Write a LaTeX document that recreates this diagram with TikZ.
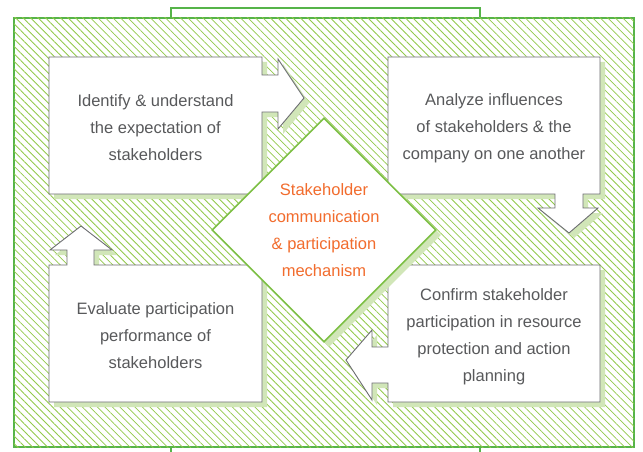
\documentclass[tikz,border=0pt]{standalone}
\usepackage{fontspec}
\setmainfont{Liberation Sans}
\usetikzlibrary{patterns.meta,shapes.geometric}
\definecolor{framegreen}{HTML}{56B449}
\definecolor{hatchgreen}{HTML}{92C94A}
\definecolor{diagreen}{HTML}{7CBF44}
\definecolor{shadowgreen}{HTML}{D1E6B8}
\definecolor{boxgray}{HTML}{6D6E71}
\definecolor{textgray}{HTML}{58595B}
\definecolor{mechorange}{HTML}{F26C2D}
\newcommand\pathIdentify{(49,57) -- (262,57) -- (262,75) -- (278,75) -- (278,59) -- (304,98) -- (278,129) -- (278,112) -- (262,112) -- (262,194) -- (49,194) -- cycle}
\newcommand\pathAnalyze{(388,57) -- (600,57) -- (600,194) -- (583,194) -- (583,208) -- (598,208) -- (569,233) -- (538,208) -- (555,208) -- (555,194) -- (388,194) -- cycle}
\newcommand\pathEvaluate{(49,265) -- (67,265) -- (67,250) -- (50,250) -- (81,226) -- (112,250) -- (94,250) -- (94,265) -- (262,265) -- (262,402) -- (49,402) -- cycle}
\newcommand\pathConfirm{(388,265) -- (600,265) -- (600,402) -- (388,402) -- (388,383) -- (372,383) -- (372,400) -- (346,360) -- (372,330) -- (372,347) -- (388,347) -- cycle}
\begin{document}
\begin{tikzpicture}[x=1pt,y=-1pt,
  frameline/.style={draw=framegreen,line width=2.5pt},
  shadowshape/.style={fill=shadowgreen,shift={(5,5)}},
  stepshape/.style={draw=boxgray,line width=0.9pt,fill=white,line join=miter},
  txt/.style={text=textgray,align=center,font=\fontsize{16.5}{27}\selectfont},
  mech/.style={shape=diamond,minimum width=224pt,minimum height=224pt,inner sep=0pt},
]
\fill[white] (0,0) rectangle (643,452);
\useasboundingbox (0,0) rectangle (643,452);
% tab behind frame
\draw[frameline] (171,8) rectangle (480,460);
% main hatched frame
\draw[frameline,fill=white,postaction={pattern={Lines[angle=-45,distance=5.3pt,line width=0.8pt]},pattern color=hatchgreen}] (14,18) rectangle (634,447);
% box shadows
\fill[shadowshape] \pathIdentify;
\fill[shadowshape] \pathAnalyze;
\fill[shadowshape] \pathEvaluate;
\fill[shadowshape] \pathConfirm;
% boxes
\draw[stepshape] \pathIdentify;
\draw[stepshape] \pathAnalyze;
\draw[stepshape] \pathEvaluate;
\draw[stepshape] \pathConfirm;
% texts
\node[txt] (identify) at (155.5,128) {Identify \& understand\\the expectation of\\stakeholders};
\node[txt] (analyze) at (494,128) {Analyze influences\\of stakeholders \& the\\company on one another};
\node[txt] (evaluate) at (155.5,336) {Evaluate participation\\performance of\\stakeholders};
\node[txt] (confirm) at (494,337) {Confirm stakeholder\\participation in resource\\protection and action\\planning};
% central diamond
\node[mech,fill=shadowgreen] (mechshadow) at (329,235) {};
\node[mech,fill=white,draw=diagreen,line width=1.6pt,text=mechorange,align=center,font=\fontsize{16.5}{27}\selectfont] (mechanism) at (324,230) {Stakeholder\\communication\\\& participation\\mechanism};
\end{tikzpicture}
\end{document}
